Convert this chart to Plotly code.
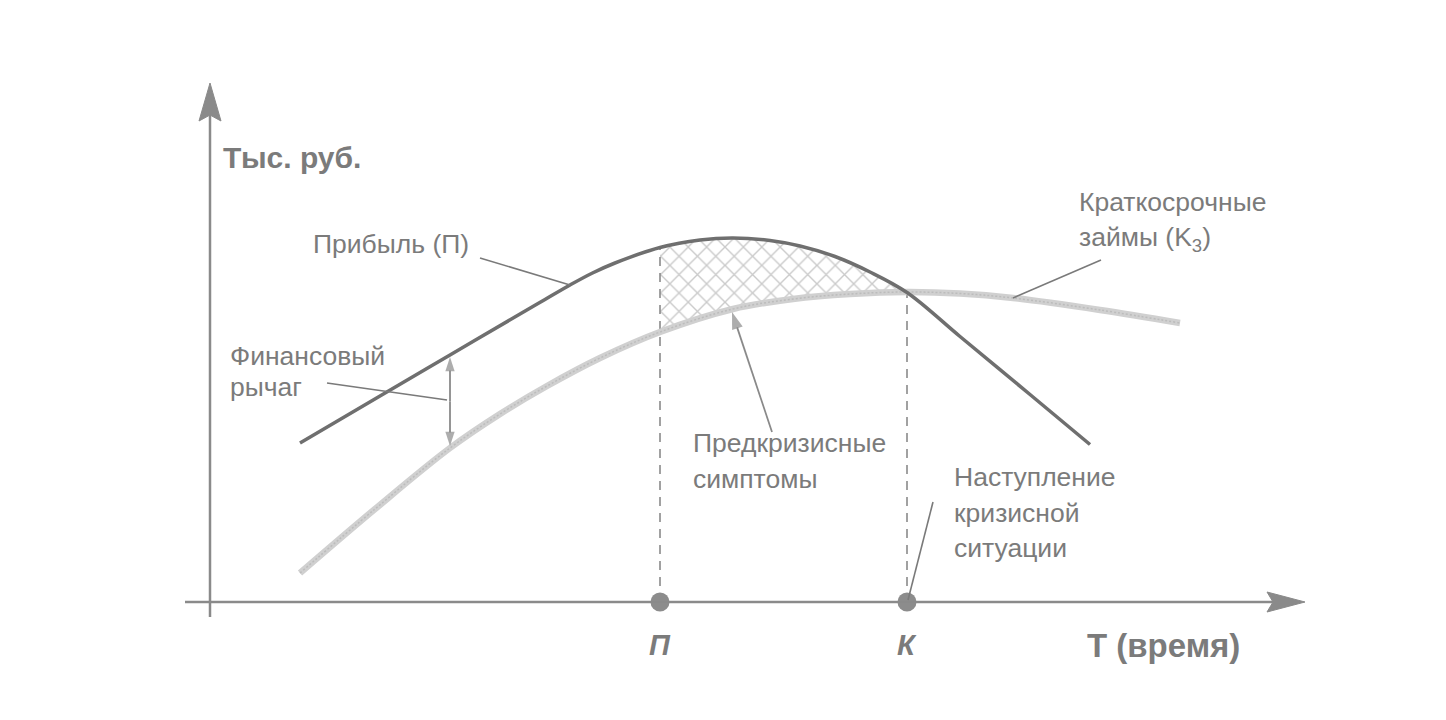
import plotly.graph_objects as go

# ---- data (time units / thousand roubles, schematic) ----
profit_t = [1.8, 3.4, 4.8, 6.2, 6.7, 7.2, 7.65, 8.1, 9.0, 9.8, 10.46, 11.2, 11.8, 12.5, 13.2, 13.94,
            15.0, 16.4, 17.6]
profit_v = [3.18, 4.12, 4.94, 5.76, 6.05, 6.34, 6.58, 6.78, 7.09, 7.24, 7.28, 7.23, 7.12, 6.91, 6.60,
            6.19, 5.31, 4.15, 3.15]

loans_t = [1.8, 3.3, 4.8, 5.8, 6.74, 7.8, 9.0, 10.46, 11.66, 12.8, 13.94, 15.0, 16.06, 17.8, 19.4]
loans_v = [0.58, 1.86, 3.08, 3.76, 4.32, 4.88, 5.4, 5.86, 6.06, 6.16, 6.2, 6.17, 6.08, 5.84, 5.58]

point_labels = ["П", "К"]
point_t = [9.0, 13.94]

lever_t = 4.8
lever_top, lever_bottom = 4.9, 3.12

TXT = "#7b7b7b"
AX = "#8a8a8a"
FONT = "Liberation Sans, Arial, sans-serif"

fig = go.Figure()

# hatched region (between loans and profit from П to К)
i0, i1 = loans_t.index(point_t[0]), loans_t.index(point_t[1])
j0, j1 = profit_t.index(point_t[0]), profit_t.index(point_t[1])
fig.add_trace(go.Scatter(x=loans_t[i0:i1 + 1], y=loans_v[i0:i1 + 1], mode="lines",
                         line=dict(width=0, shape="spline"), hoverinfo="skip"))
fig.add_trace(go.Scatter(x=profit_t[j0:j1 + 1], y=profit_v[j0:j1 + 1], mode="lines",
                         line=dict(width=0, shape="spline"), fill="tonexty",
                         fillcolor="rgba(0,0,0,0)",
                         fillpattern=dict(shape="x", fgcolor="#959595", bgcolor="white",
                                          size=13, solidity=0.2),
                         hoverinfo="skip"))

# dashed verticals
for t in point_t:
    v = profit_v[profit_t.index(t)]
    fig.add_trace(go.Scatter(x=[t, t], y=[0, v], mode="lines",
                             line=dict(color=AX, width=1.6, dash="9px,7px"), hoverinfo="skip"))

# curves
fig.add_trace(go.Scatter(x=loans_t, y=loans_v, mode="lines",
                         line=dict(color="#d0d0d0", width=6.5, shape="spline"), hoverinfo="skip"))
fig.add_trace(go.Scatter(x=loans_t, y=loans_v, mode="lines",
                         line=dict(color="#bcbcbc", width=1.5, shape="spline", dash="2px,2px"),
                         hoverinfo="skip"))
fig.add_trace(go.Scatter(x=profit_t, y=profit_v, mode="lines",
                         line=dict(color="#6f6f6f", width=3.5, shape="spline"), hoverinfo="skip"))

# axes
fig.add_shape(type="line", x0=0, x1=0, y0=-0.3, y1=9.8, line=dict(color=AX, width=2.5))
fig.add_shape(type="line", x0=-0.5, x1=21.3, y0=0, y1=0, line=dict(color=AX, width=2.5))
fig.add_shape(type="path", path="M 0,10.38 L 0.22,9.62 L 0,9.74 L -0.22,9.62 Z",
              fillcolor=AX, line=dict(color=AX, width=1))
fig.add_shape(type="path", path="M 21.9,0 L 21.14,0.2 L 21.26,0 L 21.14,-0.2 Z",
              fillcolor=AX, line=dict(color=AX, width=1))

# points on time axis
fig.add_trace(go.Scatter(x=point_t, y=[0, 0], mode="markers",
                         marker=dict(size=19, color="#8c8c8c"), hoverinfo="skip"))

# leader lines
leaders = [((5.4, 6.88), (7.2, 6.34)),
           ((2.34, 4.38), (4.74, 4.04)),
           ((17.82, 6.84), (16.06, 6.08)),
           ((14.46, 2.0), (13.96, 0.04))]
for (xa, ya), (xb, yb) in leaders:
    fig.add_shape(type="line", x0=xa, y0=ya, x1=xb, y1=yb, line=dict(color="#7a7a7a", width=1.6))


def arrow(x_tail, y_tail, x_head, y_head, size=17):
    fig.add_trace(go.Scatter(x=[x_tail, x_head], y=[y_tail, y_head], mode="lines+markers",
                             line=dict(color="#8a8a8a", width=1.8),
                             marker=dict(symbol=["circle", "arrow"], size=[0, size],
                                         angleref="previous", color="#8a8a8a",
                                         line=dict(width=0)),
                             hoverinfo="skip"))


# double arrow (financial leverage)
lever_mid = (lever_top + lever_bottom) / 2
arrow(lever_t, lever_mid, lever_t, lever_top, 15)
arrow(lever_t, lever_mid, lever_t, lever_bottom, 15)
# arrow to hatched area
arrow(11.24, 3.4, 10.44, 5.8, 18)


def label(text, x, y, size=26.5, bold=False, italic=False, anchor="left"):
    if bold:
        text = "<b>" + text + "</b>"
    if italic:
        text = "<i>" + text + "</i>"
    fig.add_annotation(x=x, y=y, xref="x", yref="y", text=text, showarrow=False,
                       xanchor=anchor, yanchor="middle",
                       font=dict(family=FONT, size=size, color=TXT))


def py(p):
    return (602 - p) / 50


def px(p):
    return (p - 210) / 50


label("Тыс. руб.", px(221), py(157), size=30, bold=True)
label("Прибыль (П)", px(311), py(244))
label("Финансовый", px(228), py(356))
label("рычаг", px(228), py(387))
label("Краткосрочные", px(1077), py(202))
label("займы (K<sub>3</sub>)", px(1077), py(239))
label("Предкризисные", px(691), py(443))
label("симптомы", px(691), py(479))
label("Наступление", px(952), py(477))
label("кризисной", px(952), py(513))
label("ситуации", px(952), py(548))
for lab, t in zip(point_labels, point_t):
    label(lab, t, py(645), size=29, bold=True, italic=True, anchor="center")
label("T (время)", px(1085), py(645), size=33, bold=True)

# page body has an 8px margin: shift ranges so the drawing lands where the reference has it
fig.update_layout(
    width=1430, height=704, autosize=False,
    margin=dict(l=0, r=0, t=0, b=0),
    paper_bgcolor="white", plot_bgcolor="white",
    showlegend=False,
    xaxis=dict(range=[-4.04, 24.56], visible=False, fixedrange=True),
    yaxis=dict(range=[-2.2, 11.88], visible=False, fixedrange=True),
)

fig.write_html("out.html")
